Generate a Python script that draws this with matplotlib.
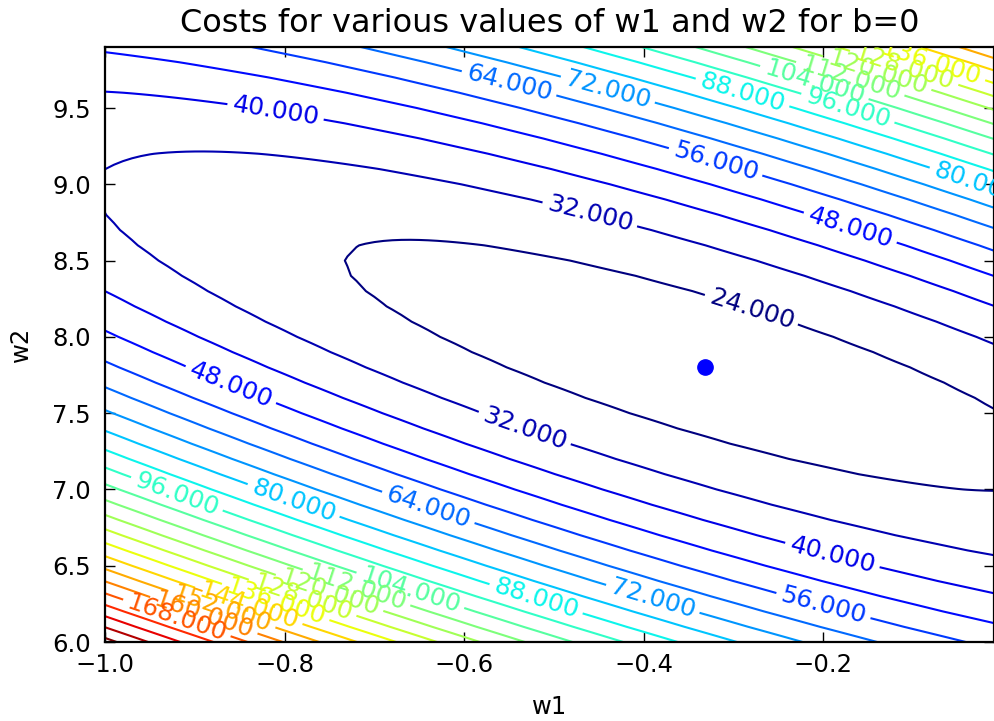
import numpy as np
import matplotlib
matplotlib.use("Agg")
import matplotlib.pyplot as plt

# weight grid that was evaluated (b is fixed to 0)
w1_values = np.arange(-1.0, 0.0, 0.01)
w2_values = np.arange(6.0, 10.0, 0.1)

# quadratic cost surface: position/value of the minimum
# and the curvature terms of the bowl
w1_best = -0.334
w2_best = 7.815
cost_best = 19.75
curv_w1 = 84.15
curv_cross = 33.6
curv_w2 = 19.65

# contour levels drawn in the chart
levels = [24, 32, 40, 48, 56, 64, 72, 80, 88, 96, 104, 112, 120, 128,
          136, 144, 152, 160, 168, 176, 184, 192, 200]

# the marked point
dot_w1 = [-0.332]
dot_w2 = [7.80]

# where the contour labels sit (level, w1, w2)
label_levels = [40, 64, 72, 88, 56, 32, 48, 80, 24,
                48, 32, 96, 80, 64, 40, 72, 56, 88, 104,
                96, 104, 112, 120, 128, 136,
                112, 120, 128, 136, 144, 152, 160, 168]
label_w1 = [-0.808, -0.549, -0.443, -0.293, -0.316, -0.460, -0.168, -0.030, -0.279,
            -0.860, -0.532, -0.919, -0.788, -0.636, -0.186, -0.386, -0.197, -0.521, -0.657,
            -0.171, -0.210, -0.170, -0.140, -0.110, -0.080,
            -0.720, -0.750, -0.780, -0.810, -0.840, -0.865, -0.890, -0.915]
label_w2 = [9.485, 9.677, 9.644, 9.630, 9.155, 8.805, 8.719, 9.036, 8.198,
            7.696, 7.386, 6.970, 6.924, 6.878, 6.574, 6.264, 6.231, 6.277, 6.310,
            9.518, 9.696, 9.720, 9.740, 9.760, 9.780,
            6.360, 6.340, 6.320, 6.300, 6.280, 6.260, 6.240, 6.220]

W1, W2 = np.meshgrid(w1_values, w2_values)
du = W1 - w1_best
dv = W2 - w2_best
cost = cost_best + curv_w1 * du**2 + 2 * curv_cross * du * dv + curv_w2 * dv**2

plt.rcParams['font.family'] = ['DejaVu Sans']
fig = plt.figure(figsize=(9.95, 7.21), dpi=100)
ax = fig.add_axes([105 / 995, 79 / 721, 889 / 995, 595 / 721])

cs = ax.contour(W1, W2, cost, levels=levels, cmap='jet', linewidths=1.5)

# snap every label spot onto its own contour so clabel picks the right level
paths = cs.get_paths()
spots = []
for lev, x, y in zip(label_levels, label_w1, label_w2):
    verts = paths[levels.index(lev)].vertices
    d = ((verts[:, 0] - x) * 900) ** 2 + ((verts[:, 1] - y) * 152) ** 2
    spots.append(tuple(verts[np.argmin(d)]))
ax.clabel(cs, manual=spots, inline=True, fmt='%1.3f', fontsize=18)

ax.plot(dot_w1, dot_w2, 'o', color='blue', markersize=11)

ax.set_xlim(w1_values[0], w1_values[-1])
ax.set_ylim(w2_values[0], w2_values[-1])
ax.set_xticks([-1.0, -0.8, -0.6, -0.4, -0.2])
ax.set_yticks([6.0, 6.5, 7.0, 7.5, 8.0, 8.5, 9.0, 9.5])
ax.tick_params(direction='in', top=True, right=True, length=7, width=1,
               labelsize=17.5)
ax.tick_params(axis='x', pad=8)
ax.tick_params(axis='y', pad=10)
for s in ax.spines.values():
    s.set_linewidth(1.6)

ax.set_title("Costs for various values of w1 and w2 for b=0", fontsize=23, pad=11)
ax.set_xlabel("w1", fontsize=17.5, labelpad=13)
ax.set_ylabel("w2", fontsize=17.5, labelpad=14)

fig.savefig("out.png", dpi=100)
